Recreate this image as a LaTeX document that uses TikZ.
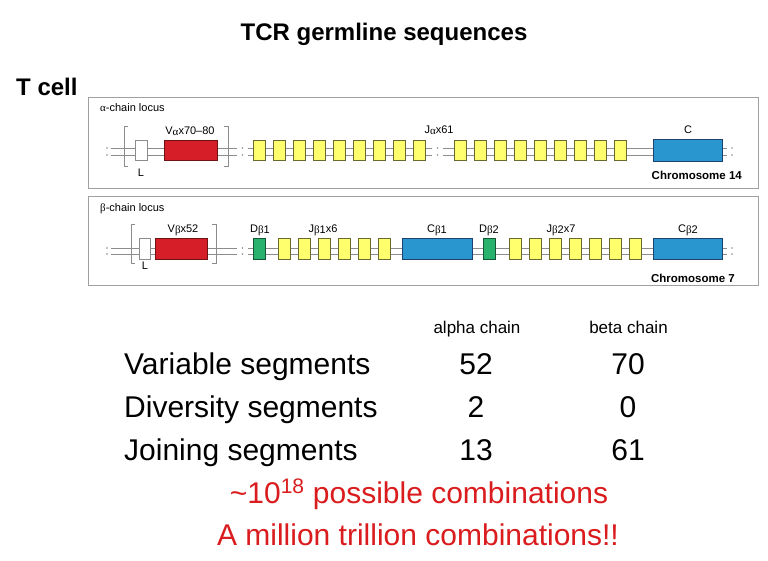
\documentclass[tikz,border=0pt]{standalone}
\usepackage{fontspec}
\setmainfont{Liberation Sans}
\newfontfamily\greekf{Liberation Serif}
\definecolor{vred}{RGB}{214,30,40}
\definecolor{vredb}{RGB}{110,20,20}
\definecolor{jyel}{RGB}{255,255,110}
\definecolor{jyelb}{RGB}{105,105,50}
\definecolor{cblue}{RGB}{42,150,208}
\definecolor{cblueb}{RGB}{30,65,110}
\definecolor{dgreen}{RGB}{40,178,110}
\definecolor{dgreenb}{RGB}{20,85,55}
\definecolor{lgray}{RGB}{140,140,140}
\definecolor{fgray}{RGB}{160,160,160}
\definecolor{txtred}{RGB}{218,28,30}
\newcommand{\gk}[1]{{\greekf #1}}
\begin{document}
\begin{tikzpicture}[x=1pt,y=-1pt,
  seg/.style={draw, line width=0.8pt, inner sep=0pt, minimum width=12pt, minimum height=20pt},
  jseg/.style={seg, fill=jyel, draw=jyelb},
  vseg/.style={seg, fill=vred, draw=vredb},
  cseg/.style={seg, fill=cblue, draw=cblueb, minimum width=69pt, minimum height=22pt},
  dseg/.style={seg, fill=dgreen, draw=dgreenb},
  lseg/.style={seg, fill=white, draw=lgray},
  dna/.style={draw=lgray, line width=0.8pt},
  frame/.style={draw=fgray, line width=1.3pt},
  brk/.style={draw=lgray, line width=0.8pt},
  dotc/.style={fill=lgray, draw=none, circle, inner sep=0pt, minimum size=1.8pt},
  small/.style={font=\fontsize{11}{12}\selectfont, inner sep=0pt, anchor=base},
  chrom/.style={font=\fontsize{11.5}{13}\selectfont\bfseries, inner sep=0pt, anchor=base east},
  big/.style={font=\fontsize{30}{34}\selectfont, inner sep=0pt, anchor=base},
  head/.style={font=\fontsize{17}{19}\selectfont, inner sep=0pt, anchor=base},
  redt/.style={font=\fontsize{30}{34}\selectfont, text=txtred, inner sep=0pt, anchor=base}
]
\useasboundingbox (0,0) rectangle (768,560);
\fill[white] (0,0) rectangle (768,560);

% titles
\node[font=\fontsize{24}{28}\selectfont\bfseries, inner sep=0pt, anchor=base] (title) at (384,40) {TCR germline sequences};
\node[font=\fontsize{24}{28}\selectfont\bfseries, inner sep=0pt, anchor=base west] (tcell) at (16,95) {T cell};

% frames
\node[frame, minimum width=670pt, minimum height=91pt, anchor=north west, inner sep=0pt] (fa) at (88,97) {};
\node[frame, minimum width=670pt, minimum height=89pt, anchor=north west, inner sep=0pt] (fb) at (88,196) {};

% ---------------- alpha locus ----------------
\foreach \y in {148,155}{
  \draw[dna] (111,\y) -- (237,\y);
  \draw[dna] (248,\y) -- (432,\y);
  \draw[dna] (443,\y) -- (727,\y);
  \node[dotc] at (107,\y) {};
  \node[dotc] at (242.5,\y) {};
  \node[dotc] at (437.5,\y) {};
  \node[dotc] at (732,\y) {};
}
\draw[brk] (128,126) -- (124,126) -- (124,166) -- (128,166);
\draw[brk] (224,126) -- (228,126) -- (228,166) -- (224,166);
\node[lseg] (la) at (141,150) {};
\node[vseg, minimum width=53pt] (va) at (190.5,150) {};
\foreach \i in {0,...,8}{
  \node[jseg] (jaa\i) at ({259+20*\i},150) {};
  \node[jseg] (jab\i) at ({460+20*\i},150) {};
}
\node[cseg] (ca) at (687.5,150) {};
\node[small, anchor=base west] (alab) at (100,111) {\gk{α}-chain locus};
\node[small] (valab) at (190,134) {V\raisebox{-1.5pt}{\gk{α}}x70–80};
\node[small] (lalab) at (141,176) {L};
\node[small] (jalab) at (439,133) {J\raisebox{-1.5pt}{\gk{α}}x61};
\node[small] (calab) at (688,133) {C};
\node[chrom] (chr14) at (742,179) {Chromosome 14};

% ---------------- beta locus ----------------
\foreach \y in {248,254}{
  \draw[dna] (111,\y) -- (237,\y);
  \draw[dna] (248,\y) -- (727,\y);
  \node[dotc] at (107,\y) {};
  \node[dotc] at (242.5,\y) {};
  \node[dotc] at (732,\y) {};
}
\draw[brk] (135,224) -- (131,224) -- (131,263) -- (135,263);
\draw[brk] (212,224) -- (216,224) -- (216,263) -- (212,263);
\node[lseg, minimum width=11pt, minimum height=21pt] (lb) at (144.5,248.5) {};
\node[vseg, minimum width=52pt, minimum height=21pt] (vb) at (181,248.5) {};
\node[dseg, minimum height=21pt] (db1) at (259,248.5) {};
\foreach \i in {0,...,5}{
  \node[jseg, minimum height=21pt] (jb1\i) at ({284+20*\i},248.5) {};
}
\node[cseg, minimum width=70pt, minimum height=21pt] (cb1) at (437,248.5) {};
\node[dseg, minimum height=21pt] (db2) at (489,248.5) {};
\foreach \i in {0,...,6}{
  \node[jseg, minimum height=21pt] (jb2\i) at ({515+20*\i},248.5) {};
}
\node[cseg, minimum height=21pt] (cb2) at (687.5,248.5) {};
\node[small, anchor=base west] (blab) at (100,211) {\gk{β}-chain locus};
\node[small] (vblab) at (183,232) {V\raisebox{-1.5pt}{\gk{β}}x52};
\node[small] (lblab) at (145,269) {L};
\node[small] (db1lab) at (260,232) {D\raisebox{-1.5pt}{\gk{β}1}};
\node[small] (jb1lab) at (323,232) {J\raisebox{-1.5pt}{\gk{β}1}x6};
\node[small] (cb1lab) at (437,232) {C\raisebox{-1.5pt}{\gk{β}1}};
\node[small] (db2lab) at (489,232) {D\raisebox{-1.5pt}{\gk{β}2}};
\node[small] (jb2lab) at (561,232) {J\raisebox{-1.5pt}{\gk{β}2}x7};
\node[small] (cb2lab) at (688,232) {C\raisebox{-1.5pt}{\gk{β}2}};
\node[chrom] (chr7) at (735,282) {Chromosome 7};

% ---------------- table ----------------
\node[head] (ha) at (477,333) {alpha chain};
\node[head] (hb) at (628.5,333) {beta chain};
\node[big, anchor=base west] (r1) at (124,374) {Variable segments};
\node[big, anchor=base west] (r2) at (124,417) {Diversity segments};
\node[big, anchor=base west] (r3) at (124,460) {Joining segments};
\node[big] (a1) at (476,374) {52};
\node[big] (b1) at (628,374) {70};
\node[big] (a2) at (476,417) {2};
\node[big] (b2) at (628,417) {0};
\node[big] (a3) at (476,460) {13};
\node[big] (b3) at (628,460) {61};

\node[redt] (comb) at (419,503) {\textasciitilde 10\textsuperscript{18} possible combinations};
\node[redt] (mill) at (418,545) {A million trillion combinations!!};
\end{tikzpicture}
\end{document}
